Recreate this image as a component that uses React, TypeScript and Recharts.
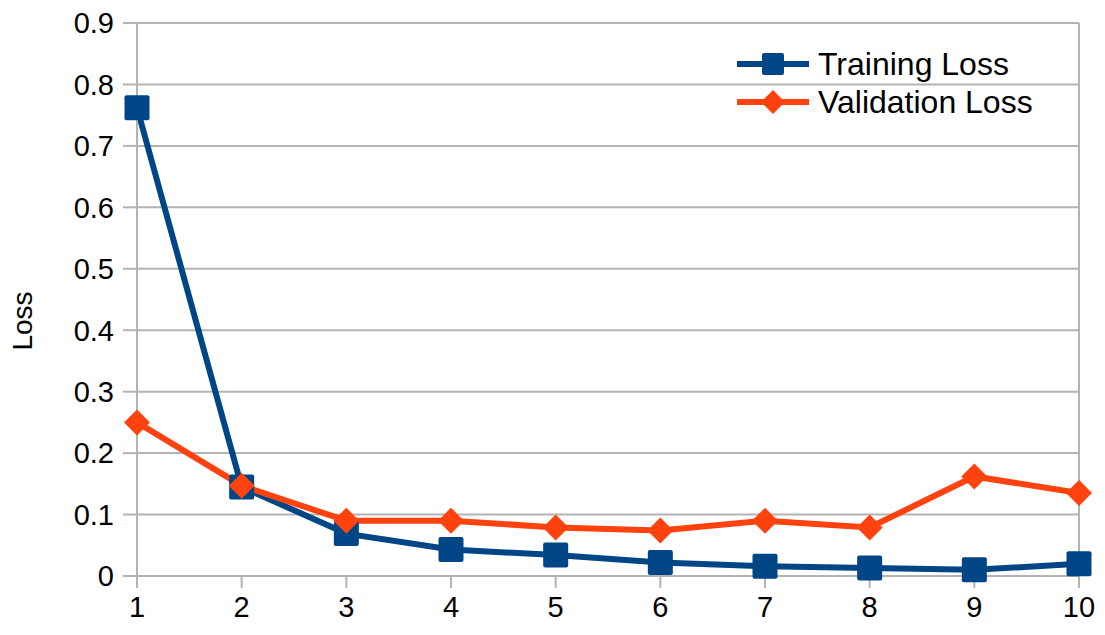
import { LineChart, Line, XAxis, YAxis, CartesianGrid, ReferenceLine } from 'recharts';

const epochs = [1, 2, 3, 4, 5, 6, 7, 8, 9, 10];
const trainingLoss = [0.762, 0.145, 0.069, 0.043, 0.034, 0.022, 0.016, 0.013, 0.01, 0.02];
const validationLoss = [0.25, 0.147, 0.09, 0.09, 0.079, 0.074, 0.09, 0.079, 0.162, 0.135];
const yTicks = [0, 0.1, 0.2, 0.3, 0.4, 0.5, 0.6, 0.7, 0.8, 0.9];

const data = epochs.map((epoch, i) => ({
  epoch,
  training: trainingLoss[i],
  validation: validationLoss[i],
}));

const BLUE = '#004586';
const ORANGE = '#ff420e';
const GRID = '#b3b3b3';
const FONT = '"Liberation Sans", Arial, sans-serif';

const legendItems = [
  { name: 'Training Loss', color: BLUE, shape: 'square' },
  { name: 'Validation Loss', color: ORANGE, shape: 'diamond' },
];

type DotProps = { cx?: number; cy?: number; index?: number };

const SquareDot = ({ cx = 0, cy = 0, index }: DotProps) => (
  <rect key={`sq-${index}`} x={cx - 12.5} y={cy - 12.5} width={25} height={25} rx={2} fill={BLUE} />
);

const DiamondDot = ({ cx = 0, cy = 0, index }: DotProps) => (
  <polygon
    key={`dm-${index}`}
    points={`${cx},${cy - 13} ${cx + 13},${cy} ${cx},${cy + 13} ${cx - 13},${cy}`}
    fill={ORANGE}
  />
);

// legend sits over the plot, top right, without taking space from it
const ChartLegend = () => (
  <div
    style={{
      position: 'absolute',
      left: 737,
      top: 45,
      fontFamily: FONT,
      fontSize: 32,
      color: '#000',
      lineHeight: '38px',
    }}
  >
    {legendItems.map((item) => (
      <div key={item.name} style={{ display: 'flex', alignItems: 'center', height: 38 }}>
        <svg width={72} height={30} style={{ marginRight: 9 }}>
          <line x1={0} y1={15} x2={72} y2={15} stroke={item.color} strokeWidth={6} />
          {item.shape === 'square' ? (
            <rect x={25} y={4} width={22} height={22} rx={2} fill={item.color} />
          ) : (
            <polygon points="36,3 48,15 36,27 24,15" fill={item.color} />
          )}
        </svg>
        <span>{item.name}</span>
      </div>
    ))}
  </div>
);

export default function App() {
  return (
    <div style={{ position: 'absolute', left: 0, top: 0, width: 1105, height: 635, background: '#fff' }}>
      <LineChart width={1105} height={635} data={data} margin={{ top: 23, right: 26, left: 0, bottom: 0 }}>
        <CartesianGrid vertical={false} stroke={GRID} strokeWidth={2} />
        <ReferenceLine x={10} stroke={GRID} strokeWidth={2} />
        <XAxis
          dataKey="epoch"
          type="category"
          height={59}
          stroke={GRID}
          strokeWidth={2}
          tickSize={12}
          tickMargin={8}
          tick={{ fill: '#000', fontSize: 29, fontFamily: FONT }}
          interval={0}
        />
        <YAxis
          width={137}
          domain={[0, 0.9]}
          ticks={yTicks}
          stroke={GRID}
          strokeWidth={2}
          tickSize={14}
          tickMargin={9}
          tick={{ fill: '#000', fontSize: 29, fontFamily: FONT }}
          tickFormatter={(v: number) => String(v)}
          label={() => (
            <text
              x={22}
              y={321}
              transform="rotate(-90, 22, 321)"
              textAnchor="middle"
              dominantBaseline="central"
              fontSize={28}
              fontFamily={FONT}
              fill="#000"
            >
              Loss
            </text>
          )}
        />
        <Line
          dataKey="training"
          name="Training Loss"
          stroke={BLUE}
          strokeWidth={6}
          dot={SquareDot}
          activeDot={false}
          isAnimationActive={false}
        />
        <Line
          dataKey="validation"
          name="Validation Loss"
          stroke={ORANGE}
          strokeWidth={6}
          dot={DiamondDot}
          activeDot={false}
          isAnimationActive={false}
        />
      </LineChart>
      <ChartLegend />
    </div>
  );
}
